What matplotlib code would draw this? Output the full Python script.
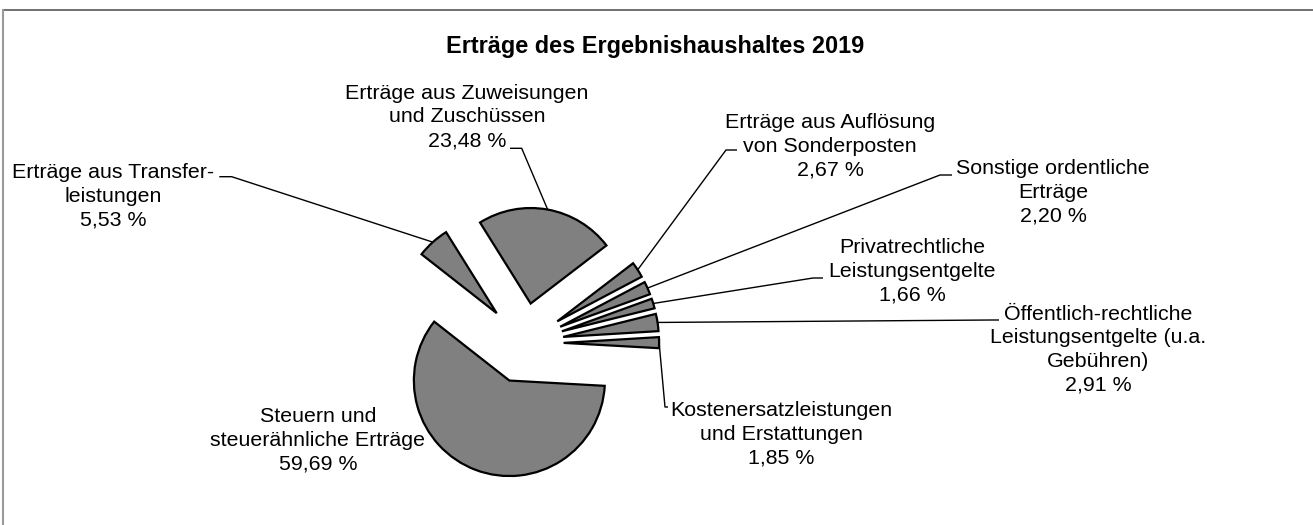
import numpy as np
import matplotlib
matplotlib.use("Agg")
import matplotlib.pyplot as plt

# ---- data (clockwise order from the start angle) ----
categories = [
    "Erträge aus Zuweisungen\nund Zuschüssen",
    "Erträge aus Auflösung\nvon Sonderposten",
    "Sonstige ordentliche\nErträge",
    "Privatrechtliche\nLeistungsentgelte",
    "Öffentlich-rechtliche\nLeistungsentgelte (u.a.\nGebühren)",
    "Kostenersatzleistungen\nund Erstattungen",
    "Steuern und\nsteuerähnliche Erträge",
    "Erträge aus Transfer-\nleistungen",
]
shares = [23.48, 2.67, 2.20, 1.66, 2.91, 1.85, 59.69, 5.53]
title = "Erträge des Ergebnishaushaltes 2019"

# ---- layout (pixel coordinates, y measured from top) ----
W, H = 1313, 525
label_pos = [(467, 117), (830, 146), (1053, 192.5), (912, 271.5),
             (1098, 349.5), (781, 434), (318, 440), (113, 196)]
# leader elbows and ends (None = no leader)
leader = [((521.7, 148.3), (510, 148.3)),
          ((726, 150), (737, 150)),
          ((940, 175), (952, 175)),
          ((813, 278), (823, 278)),
          ((992, 320), (999, 320)),
          ((665, 407), (668, 407)),
          None,
          ((231.7, 176.7), (219.3, 176.7))]

plt.rcParams['font.family'] = ['Liberation Sans', 'DejaVu Sans']

fig = plt.figure(figsize=(W / 100, H / 100), dpi=100)
ax = fig.add_axes([0, 0, 1, 1])

def Y(py):
    return H - py

pie_center = (523.5, Y(343))
radius = 95.5
wedges, _ = ax.pie(shares, startangle=122, counterclock=False,
                   explode=[0.42 * radius] * len(shares), radius=radius,
                   center=pie_center, frame=True,
                   wedgeprops=dict(facecolor='#808080', edgecolor='black',
                                   linewidth=1.6))
ax.set_xlim(0, W)
ax.set_ylim(0, H)
ax.set_aspect('auto')
ax.axis('off')

fs = 15.4
for cat, val, (px, py), ld, w in zip(categories, shares, label_pos, leader, wedges):
    txt = cat + "\n" + f"{val:.2f}".replace('.', ',') + " %"
    ax.text(px, Y(py), txt, ha='center', va='center', multialignment='center',
            fontsize=fs, linespacing=1.31, color='black')
    if ld is not None:
        mid = np.deg2rad((w.theta1 + w.theta2) / 2)
        cx, cy = w.center
        sx, sy = cx + w.r * np.cos(mid), cy + w.r * np.sin(mid)
        (ex, ey), (tx, ty) = ld
        ax.plot([sx, ex, tx], [sy, Y(ey), Y(ty)], color='black', lw=1.0,
                solid_capstyle='butt', zorder=0.5)

ax.text(655, Y(46), title, ha='center', va='center', fontsize=16.9,
        fontweight='bold')

# chart border (top and left edges visible)
ax.plot([3, W], [Y(10), Y(10)], color='#595959', lw=1.2, clip_on=False)
ax.plot([3, 3], [Y(10), 0], color='#9a9a9a', lw=1.5, clip_on=False)

fig.savefig("out.png", dpi=100)
